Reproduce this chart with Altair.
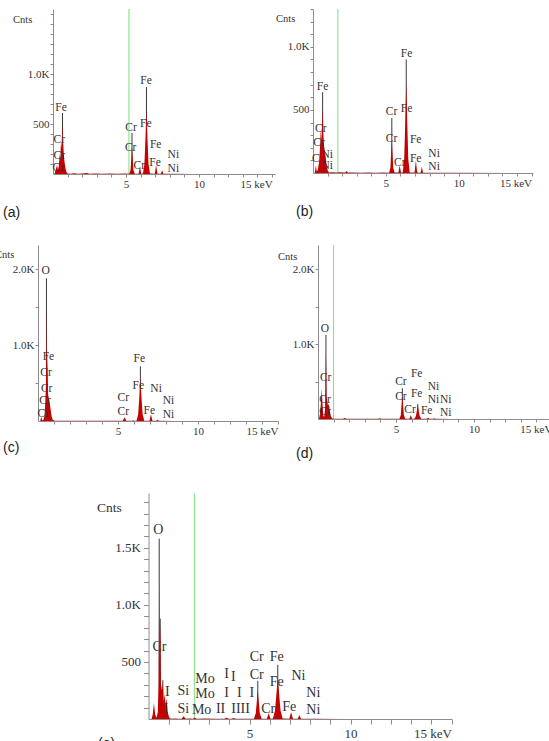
import altair as alt
import pandas as pd

RED = "#c40000"
SPIKE = "#3a3a3a"
GREEN = "#7ee07e"
TXT = "#333333"
AX = "#8c8c8c"
SERIF = "Liberation Serif"
SANS = "Liberation Sans"
VIEW_W, VIEW_H = 549, 741

# ---------------- panel (a) ----------------
a_kev = [0.00, 0.10, 0.16, 0.22, 0.28, 0.34, 0.40, 0.46, 0.50, 0.55, 0.59, 0.65, 0.70, 0.74, 0.79, 0.85, 0.92, 1.00,
         1.20, 1.45, 1.70, 2.00, 2.30, 2.50, 2.90, 3.40, 3.90, 4.40, 4.90,
         5.22, 5.31, 5.36, 5.41, 5.46, 5.51, 5.60, 5.86, 5.95, 6.04,
         6.16, 6.26, 6.33, 6.40, 6.47, 6.54, 6.64, 6.97, 7.06, 7.15, 7.39, 7.47, 7.55, 8.20, 9.50, 15.2]
a_cnt = [0, 0, 30, 60, 90, 40, 80, 200, 150, 330, 260, 510, 300, 200, 120, 60, 20, 6,
         3, 8, 3, 6, 10, 3, 5, 2, 4, 3, 4,
         2, 40, 150, 270, 150, 40, 3, 3, 70, 3,
         4, 100, 350, 640, 350, 100, 4, 3, 90, 3, 2, 40, 2, 2, 1, 0]
a_spike_kev = [0.65, 5.41, 6.40]
a_spike_cnt = [610, 410, 870]
a_lab_txt = ["Fe", "Cr", "Cr", "Cr", "Cr", "Cr", "Fe", "Fe", "Fe", "Cr", "Fe", "Ni", "Ni"]
a_lab_kev = [0.55, 0.43, 0.43, 0.36, 5.34, 5.32, 6.37, 6.35, 7.03, 5.91, 6.99, 8.24, 8.24]
a_lab_cnt = [660, 340, 180, 60, 463, 263, 930, 500, 290, 83, 113, 190, 50]
a_marker = 5.2

# ---------------- panel (b) ----------------
b_kev = [0.00, 0.12, 0.20, 0.26, 0.34, 0.42, 0.48, 0.53, 0.58, 0.66, 0.71, 0.76, 0.82, 0.88, 0.94, 1.02, 1.10,
         1.35, 1.60, 1.90, 2.22, 2.30, 2.40, 2.80, 3.30, 3.80, 4.30, 4.80,
         5.22, 5.31, 5.36, 5.41, 5.46, 5.51, 5.60, 5.86, 5.95, 6.04,
         6.16, 6.26, 6.33, 6.40, 6.47, 6.54, 6.64, 6.97, 7.06, 7.15, 7.39, 7.47, 7.55, 8.20, 9.50, 15.1]
b_cnt = [0, 0, 60, 10, 30, 90, 200, 340, 260, 520, 300, 220, 160, 120, 60, 15, 4,
         6, 3, 5, 3, 16, 3, 4, 2, 3, 2, 3,
         2, 40, 150, 260, 150, 40, 3, 3, 60, 3,
         4, 110, 390, 715, 390, 110, 4, 3, 100, 3, 2, 50, 2, 2, 1, 0]
b_spike_kev = [0.66, 5.41, 6.40]
b_spike_cnt = [640, 435, 900]
b_lab_txt = ["Fe", "Cr", "Cr", "C", "Ni", "Ni", "Cr", "Cr", "Fe", "Fe", "Fe", "Cr", "Fe", "Ni", "Ni"]
b_lab_kev = [0.66, 0.53, 0.41, 0.20, 0.98, 0.98, 5.39, 5.39, 6.42, 6.42, 7.05, 5.96, 7.05, 8.31, 8.31]
b_lab_cnt = [680, 350, 235, 110, 143, 58, 480, 267, 945, 505, 262, 77, 108, 148, 50]
b_marker = 1.71

# ---------------- panel (c) ----------------
c_kev = [0.00, 0.14, 0.20, 0.26, 0.34, 0.40, 0.46, 0.50, 0.53, 0.56, 0.59, 0.63, 0.68, 0.73, 0.79, 0.85, 0.92, 1.05,
         1.30, 1.60, 1.90, 2.40, 3.00, 4.00, 5.00,
         5.30, 5.41, 5.52, 5.88, 5.95, 6.02,
         6.16, 6.26, 6.33, 6.40, 6.47, 6.54, 6.64, 6.97, 7.06, 7.15, 7.39, 7.47, 7.55, 8.50, 15.0]
c_cnt = [0, 0, 57, 10, 15, 60, 250, 500, 1500, 600, 950, 350, 300, 240, 150, 60, 15, 3,
         4, 2, 3, 2, 2, 2, 2,
         2, 50, 2, 2, 10, 2,
         4, 90, 300, 565, 300, 90, 4, 3, 90, 3, 2, 15, 2, 1, 0]
c_spike_kev = [0.53, 6.40]
c_spike_cnt = [1880, 720]
c_lab_txt = ["O", "Fe", "Cr", "Cr", "Cr", "Cr", "Fe", "Fe", "Ni", "Cr", "Ni", "Cr", "Fe", "Ni"]
c_lab_kev = [0.48, 0.65, 0.50, 0.54, 0.44, 0.33, 6.33, 6.27, 7.38, 5.33, 8.15, 5.33, 6.96, 8.15]
c_lab_cnt = [1975, 838, 627, 417, 267, 92, 812, 460, 421, 298, 263, 114, 136, 79]
c_marker = None

# ---------------- panel (d) ----------------
d_kev = [0.00, 0.06, 0.12, 0.18, 0.24, 0.29, 0.34, 0.40, 0.46, 0.51, 0.55, 0.59, 0.64, 0.70, 0.76, 0.82, 0.90, 1.00,
         1.30, 1.60, 1.72, 1.85, 2.30, 2.80, 3.30, 3.85, 3.95, 4.05, 4.60,
         5.22, 5.31, 5.36, 5.41, 5.46, 5.51, 5.60, 5.86, 5.95, 6.04,
         6.18, 6.28, 6.34, 6.40, 6.46, 6.52, 6.62, 6.98, 7.06, 7.14, 7.40, 7.47, 7.54, 8.50, 15.2]
d_cnt = [0, 0, 60, 200, 400, 200, 40, 30, 150, 900, 300, 250, 180, 200, 110, 40, 10, 3,
         3, 2, 14, 2, 4, 2, 2, 2, 9, 2, 2,
         2, 50, 180, 320, 180, 50, 3, 3, 50, 3,
         3, 40, 110, 190, 110, 40, 3, 2, 20, 2, 2, 10, 2, 1, 0]
d_spike_kev = [0.51, 5.41, 6.40]
d_spike_cnt = [1120, 410, 200]
d_lab_txt = ["O", "Cr", "Cr", "Cr", "Cr", "Fe", "Fe", "Cr", "Ni", "Ni", "Ni", "Cr", "Fe", "Ni"]
d_lab_kev = [0.45, 0.49, 0.45, 0.45, 5.32, 6.33, 6.33, 5.32, 7.40, 7.40, 8.19, 5.90, 6.97, 8.19]
d_lab_cnt = [1196, 551, 253, 98, 498, 596, 338, 293, 431, 253, 253, 120, 107, 84]
d_marker = 1.0

# ---------------- panel (e) ----------------
e_kev = [0.00, 0.15, 0.21, 0.27, 0.33, 0.40, 0.46, 0.50, 0.53, 0.555, 0.58, 0.62, 0.67, 0.71, 0.75, 0.80, 0.85, 0.90,
         0.95, 1.02, 1.10,
         1.30, 1.50, 1.64, 1.74, 1.84, 2.05, 2.20, 2.29, 2.38, 2.80, 3.30, 3.75, 3.87, 3.97, 4.12, 4.22, 4.32, 4.80,
         5.22, 5.31, 5.36, 5.41, 5.46, 5.51, 5.60, 5.86, 5.95, 6.04,
         6.16, 6.26, 6.33, 6.40, 6.47, 6.54, 6.64, 6.97, 7.06, 7.15, 7.39, 7.47, 7.55, 8.30, 9.50, 15.0]
e_cnt = [0, 0, 40, 140, 40, 10, 60, 300, 1200, 500, 840, 300, 250, 320, 150, 220, 120, 180,
         60, 15, 3,
         4, 3, 3, 25, 3, 4, 3, 14, 3, 4, 3, 3, 10, 3, 3, 8, 3, 3,
         3, 50, 150, 255, 150, 50, 3, 3, 50, 3,
         4, 70, 210, 370, 210, 70, 4, 3, 60, 3, 2, 35, 2, 2, 1, 0]
e_spike_kev = [0.53, 0.58, 0.71, 5.41, 6.40]
e_spike_cnt = [1580, 880, 340, 335, 475]
e_lab_txt = ["O", "Cr", "I", "I", "Si", "Si", "Mo", "Mo", "Mo", "II", "I", "I", "I", "I", "IIII", "I",
             "Cr", "Cr", "Fe", "Fe", "Ni", "Cr", "Fe", "Ni", "Ni"]
e_lab_kev = [0.49, 0.54, 0.93, 0.87, 1.72, 1.72, 2.80, 2.80, 2.63, 3.57, 3.87, 4.20, 3.87, 4.50, 4.56, 5.11,
             5.36, 5.36, 6.35, 6.35, 7.42, 5.93, 6.97, 8.16, 8.16]
e_lab_cnt = [1652, 634, 234, 88, 248, 85, 354, 219, 82, 85, 392, 366, 225, 225, 85, 225,
             547, 386, 547, 322, 377, 85, 108, 231, 82]
e_marker = 2.27


def make_panel(kev, cnt, sk, sc, lt, lk, lc, marker, tag,
               xmax, ymax, yticks, ylabels, xpix, ypix, tag_pos, cnts_pos,
               fs_tick, fs_lab, tsize, lpad, fs_cnts):
    xs = alt.Scale(domain=[0, xmax], range=list(xpix), nice=False, zero=False)
    ys = alt.Scale(domain=[0, ymax], range=list(ypix), nice=False)
    xaxis = alt.Axis(
        orient="bottom", offset=ypix[0] - VIEW_H,
        values=list(range(1, 16)), title=None, grid=False,
        labelExpr="datum.value == 15 ? '15 keV' : (datum.value % 5 == 0 ? datum.label : '')",
        labelAlign={"condition": {"test": "datum.value == 15", "value": "right"}, "value": "center"},
        labelFlush=False, labelOverlap=False, tickSize=tsize, labelPadding=lpad,
        domainColor=AX, tickColor=AX, labelColor=TXT, labelFont=SERIF, labelFontSize=fs_tick)
    yaxis = alt.Axis(
        orient="left", offset=-xpix[0],
        values=yticks, title=None, grid=False,
        labelExpr="indexof(%s, datum.value) >= 0 ? (datum.value >= 1000 ? format(datum.value / 1000, '.1f') + 'K' : format(datum.value, 'd')) : ''" % str(ylabels),
        labelOverlap=False, labelFlush=False, tickSize=tsize, labelPadding=lpad,
        domainColor=AX, tickColor=AX, labelColor=TXT, labelFont=SERIF, labelFontSize=fs_tick)
    X = alt.X("kev:Q", scale=xs, axis=xaxis)
    Y = alt.Y("cnt:Q", scale=ys, axis=yaxis)

    spec = pd.DataFrame({"kev": kev, "cnt": cnt})
    spikes = pd.DataFrame({"kev": sk, "cnt": sc, "base": [0] * len(sk)})
    labs = pd.DataFrame({"kev": lk, "cnt": lc, "t": lt})

    layers = []
    if marker is not None:
        layers.append(alt.Chart(pd.DataFrame({"kev": [marker], "cnt": [ymax], "base": [0]})).mark_rule(
            color=GREEN, strokeWidth=1).encode(x=X, y=Y, y2="base:Q"))
    layers.append(alt.Chart(spikes).mark_rule(color=SPIKE, strokeWidth=1).encode(
        x=X, y=Y, y2="base:Q"))
    layers.append(alt.Chart(spec).mark_area(color=RED, interpolate="linear").encode(x=X, y=Y))
    layers.append(alt.Chart(labs).mark_text(font=SERIF, fontSize=fs_lab, color=TXT,
                                            align="center", baseline="middle").encode(
        x=X, y=Y, text="t:N"))
    layers.append(alt.Chart(pd.DataFrame({"t": [tag]})).mark_text(
        font=SANS, fontSize=14, color="#222222", align="left", baseline="middle").encode(
        x=alt.value(tag_pos[0]), y=alt.value(tag_pos[1]), text="t:N"))
    layers.append(alt.Chart(pd.DataFrame({"t": ["Cnts"]})).mark_text(
        font=SERIF, fontSize=fs_cnts, color=TXT, align="left", baseline="middle").encode(
        x=alt.value(cnts_pos[0]), y=alt.value(cnts_pos[1]), text="t:N"))
    return alt.layer(*layers)


pa = make_panel(a_kev, a_cnt, a_spike_kev, a_spike_cnt, a_lab_txt, a_lab_kev, a_lab_cnt, a_marker, "(a)",
                15.2, 1650, list(range(100, 1700, 100)), [500, 1000],
                (53, 275), (174, 9), (3, 213), (13, 20), 11, 11.5, 3, 1, 10.5)
pb = make_panel(b_kev, b_cnt, b_spike_kev, b_spike_cnt, b_lab_txt, b_lab_kev, b_lab_cnt, b_marker, "(b)",
                15.1, 1300, list(range(100, 1400, 100)), [500, 1000],
                (313, 533), (173, 9), (296, 212), (276, 19), 11, 11.5, 3, 1, 10.5)
pc = make_panel(c_kev, c_cnt, c_spike_kev, c_spike_cnt, c_lab_txt, c_lab_kev, c_lab_cnt, c_marker, "(c)",
                15.0, 2320, [500, 1000, 1500, 2000], [1000, 2000],
                (38, 278), (421, 245), (3, 448), (-5, 255), 11, 11.5, 3, 1, 10.5)
pd_ = make_panel(d_kev, d_cnt, d_spike_kev, d_spike_cnt, d_lab_txt, d_lab_kev, d_lab_cnt, d_marker, "(d)",
                 15.2, 2320, [500, 1000, 1500, 2000], [1000, 2000],
                 (318, 555), (419, 245), (296, 454), (278, 257), 11, 11.5, 3, 1, 10.5)
pe = make_panel(e_kev, e_cnt, e_spike_kev, e_spike_cnt, e_lab_txt, e_lab_kev, e_lab_cnt, e_marker, "(e)",
                15.0, 1980, list(range(100, 2000, 100)), [500, 1000, 1500],
                (148.5, 451.5), (719, 493), (98, 744), (97, 508), 13, 14, 5, 3, 13.5)

chart = alt.layer(pa, pb, pc, pd_, pe).resolve_scale(
    x="independent", y="independent"
).resolve_axis(
    x="independent", y="independent"
).properties(
    width=VIEW_W, height=VIEW_H, padding=0,
    autosize=alt.AutoSizeParams(type="none"), background="white"
).configure_view(stroke=None)

chart.save("out.html", embed_options={"renderer": "svg", "actions": False})
